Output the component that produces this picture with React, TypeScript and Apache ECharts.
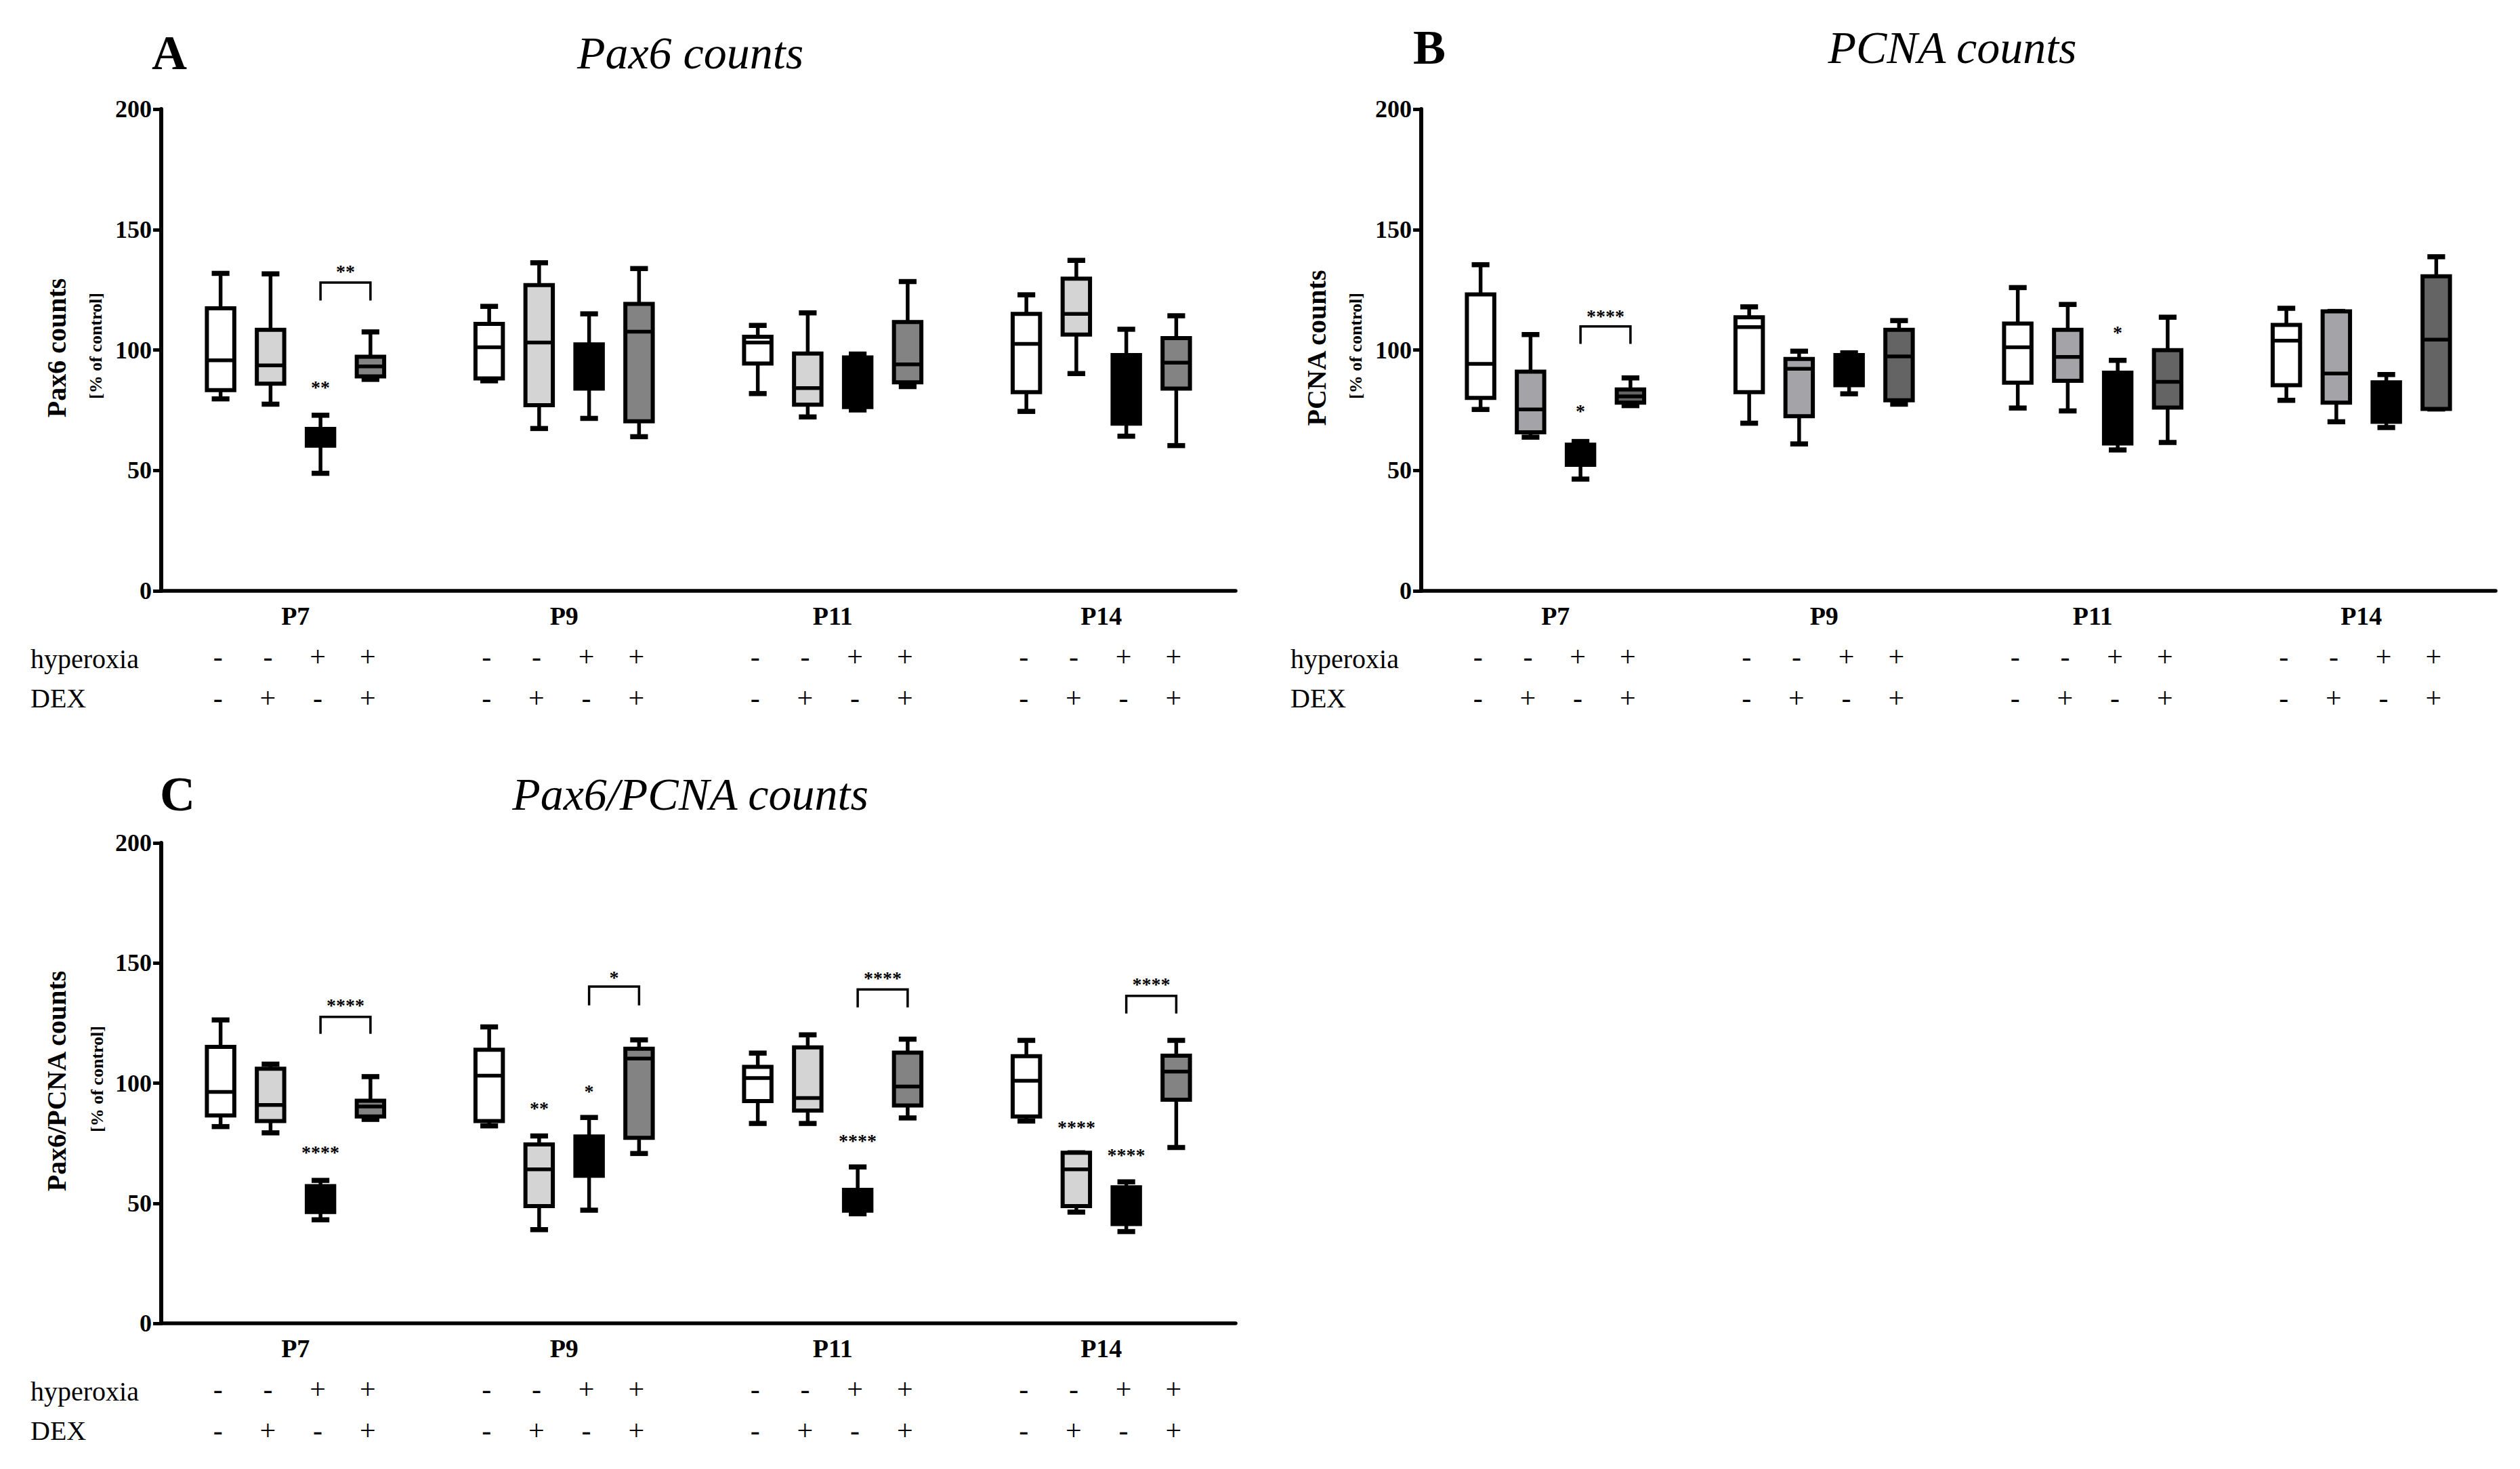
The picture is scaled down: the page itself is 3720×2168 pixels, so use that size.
import React, { useEffect, useRef } from 'react';
import * as echarts from 'echarts';

// ---------- data ----------
const categories = ['P7', 'P9', 'P11', 'P14'];
const groupNames = ['control', 'DEX', 'hyperoxia', 'hyperoxia + DEX'];
const hyperoxiaSigns = ['-', '-', '+', '+'];
const dexSigns = ['-', '+', '-', '+'];
const yTicks = [0, 50, 100, 150, 200];

// each box: [min, Q1, median, Q3, max], one per category
const paxControl = [[79.7, 83.3, 95.7, 117.3, 131.8], [87.2, 88.2, 101.1, 110.8, 118.1], [81.9, 94.4, 103.1, 105.5, 110.2], [74.5, 82.5, 102.5, 115.0, 122.9]];
const paxDex = [[77.5, 86.0, 93.6, 108.4, 131.6], [67.4, 77.1, 103.1, 126.9, 136.2], [72.2, 77.3, 84.2, 98.5, 115.4], [90.2, 106.4, 115.0, 129.6, 137.2]];
const paxHyper = [[48.8, 60.3, 64.0, 67.2, 72.9], [71.6, 84.0, 93.0, 102.3, 115.0], [75.1, 76.3, 87.0, 96.9, 98.3], [64.2, 69.4, 85.0, 97.9, 108.6]];
const paxHyperDex = [[87.8, 89.0, 93.2, 97.2, 107.5], [64.0, 70.4, 107.6, 119.1, 133.8], [84.8, 86.6, 94.0, 111.6, 128.4], [60.3, 84.0, 94.7, 104.9, 114.2]];

const pcnaControl = [[75.3, 80.1, 94.2, 123.1, 135.4], [69.6, 82.5, 109.5, 113.6, 117.9], [75.9, 86.4, 101.1, 111.0, 125.9], [79.1, 85.4, 103.9, 110.4, 117.3]];
const pcnaDex = [[63.8, 65.8, 75.3, 91.0, 106.4], [61.0, 72.5, 92.2, 96.3, 99.5], [74.7, 87.2, 97.1, 108.4, 118.9], [70.2, 78.1, 90.2, 116.0, 116.0]];
const pcnaHyper = [[46.4, 52.3, 57.0, 60.7, 62.0], [81.8, 85.4, 92.0, 97.9, 98.8], [58.5, 61.2, 75.0, 90.6, 95.7], [67.8, 70.2, 80.0, 86.6, 89.8]];
const pcnaHyperDex = [[76.9, 78.1, 80.7, 83.6, 88.4], [77.5, 79.1, 97.3, 108.4, 112.2], [61.6, 76.1, 86.8, 99.9, 113.6], [75.5, 75.5, 104.3, 130.6, 138.7]];

const ratioControl = [[81.9, 86.5, 96.3, 115.1, 126.3], [82.2, 84.2, 103.1, 113.9, 123.4], [83.2, 92.5, 102.1, 106.8, 112.5], [84.2, 86.1, 101.0, 111.2, 117.8]];
const ratioDex = [[79.3, 84.2, 90.9, 106.0, 107.9], [39.0, 48.8, 64.1, 74.5, 78.0], [83.2, 88.6, 93.8, 114.9, 120.1], [46.3, 48.8, 64.1, 71.0, 71.0]];
const ratioHyper = [[43.1, 46.3, 52.0, 57.1, 59.5], [47.1, 61.4, 70.0, 77.8, 85.7], [45.6, 46.9, 50.0, 55.6, 65.1], [38.2, 41.3, 50.0, 56.6, 58.9]];
const ratioHyperDex = [[84.9, 86.1, 90.3, 92.7, 102.7], [70.7, 77.2, 110.2, 114.3, 118.0], [85.5, 90.7, 98.6, 112.7, 118.3], [73.2, 93.1, 104.8, 111.4, 117.8]];

// brackets: [category, fromGroup, toGroup, topValue, legValue, label, labelValue]
const paxBrackets = [[0, 2, 3, 128, 120.5, '**', 134]];
const pcnaBrackets = [[0, 2, 3, 109.8, 102.5, '****', 115.4]];
const ratioBrackets = [
  [0, 2, 3, 127.6, 120.5, '****', 133.8],
  [1, 2, 3, 140.2, 132.4, '*', 145.5],
  [2, 2, 3, 139.0, 131.5, '****', 145.0],
  [3, 2, 3, 136.3, 129.0, '****', 142.5],
];
// stars: [category, group, value, label]
const paxStars = [[0, 2, 86, '**']];
const pcnaStars = [[0, 2, 76, '*'], [2, 2, 108.8, '*']];
const ratioStars = [
  [0, 2, 72.6, '****'], [1, 1, 90.9, '**'], [1, 2, 98.1, '*'],
  [2, 2, 77.4, '****'], [3, 1, 83.2, '****'], [3, 2, 71.6, '****'],
];

// ---------- style ----------
const SERIF = '"Liberation Serif", "Times New Roman", serif';
const SLOT_STEP = 0.186;
const BOX_W = 0.102;
const CAP_W = 0.066;

const panels = [
  {
    grid: { left: 238, top: 161, width: 1586, height: 711 },
    boxes: [paxControl, paxDex, paxHyper, paxHyperDex],
    fills: ['#ffffff', '#d4d4d4', '#000000', '#838383'],
    brackets: paxBrackets, stars: paxStars,
    letter: 'A', letterPos: [250, 78], title: 'Pax6 counts', titlePos: [1019, 78],
    yTitle: 'Pax6 counts', yTitleX: 83, subX: 141, rowX: 45,
  },
  {
    grid: { left: 2098, top: 161, width: 1586, height: 711 },
    boxes: [pcnaControl, pcnaDex, pcnaHyper, pcnaHyperDex],
    fills: ['#ffffff', '#a4a3a8', '#000000', '#646464'],
    brackets: pcnaBrackets, stars: pcnaStars,
    letter: 'B', letterPos: [2110, 70], title: 'PCNA counts', titlePos: [2882, 70],
    yTitle: 'PCNA counts', yTitleX: 1943, subX: 2001, rowX: 1905,
  },
  {
    grid: { left: 238, top: 1244, width: 1586, height: 709 },
    boxes: [ratioControl, ratioDex, ratioHyper, ratioHyperDex],
    fills: ['#ffffff', '#d4d4d4', '#000000', '#838383'],
    brackets: ratioBrackets, stars: ratioStars,
    letter: 'C', letterPos: [262, 1172], title: 'Pax6/PCNA counts', titlePos: [1019, 1172],
    yTitle: 'Pax6/PCNA counts', yTitleX: 83, subX: 143, rowX: 45,
  },
];

function textStyle(text: string, font: string, align = 'center', vAlign = 'middle') {
  return {
    text, font, fill: '#000', textFill: '#000',
    align, textAlign: align, verticalAlign: vAlign, textVerticalAlign: vAlign,
  };
}

function slotX(api: any, cat: number, slot: number) {
  const bw = api.size([1, 0])[0];
  return api.coord([cat, 0])[0] + (slot - 1.5) * SLOT_STEP * bw;
}

function boxRenderer(slot: number, fill: string) {
  return (params: any, api: any) => {
    const cat = api.value(0);
    const bw = api.size([1, 0])[0];
    const cx = slotX(api, cat, slot);
    const y = (v: number) => api.coord([cat, v])[1];
    const yMin = y(api.value(1));
    const yQ1 = y(api.value(2));
    const yMed = y(api.value(3));
    const yQ3 = y(api.value(4));
    const yMax = y(api.value(5));
    const w = BOX_W * bw;
    const c = CAP_W * bw;
    const ls = { stroke: '#000', lineWidth: 5.5 };
    return {
      type: 'group',
      children: [
        { type: 'line', shape: { x1: cx, y1: yQ3, x2: cx, y2: yMax }, style: ls },
        { type: 'line', shape: { x1: cx, y1: yQ1, x2: cx, y2: yMin }, style: ls },
        { type: 'line', shape: { x1: cx - c / 2, y1: yMax, x2: cx + c / 2, y2: yMax }, style: { stroke: '#000', lineWidth: 7.5 } },
        { type: 'line', shape: { x1: cx - c / 2, y1: yMin, x2: cx + c / 2, y2: yMin }, style: { stroke: '#000', lineWidth: 7.5 } },
        { type: 'rect', shape: { x: cx - w / 2, y: yQ3, width: w, height: yQ1 - yQ3 }, style: { fill, stroke: '#000', lineWidth: 6 } },
        { type: 'line', shape: { x1: cx - w / 2, y1: yMed, x2: cx + w / 2, y2: yMed }, style: { stroke: '#000', lineWidth: 5.5 } },
      ],
    };
  };
}

function buildOption() {
  const grid: any[] = [];
  const xAxis: any[] = [];
  const yAxis: any[] = [];
  const series: any[] = [];
  const graphic: any[] = [];

  panels.forEach((p, pi) => {
    grid.push({ ...p.grid, containLabel: false });
    xAxis.push({
      type: 'category', gridIndex: pi, data: categories,
      axisLine: { lineStyle: { color: '#000', width: 5.5 } },
      axisTick: { alignWithLabel: true, length: 13, lineStyle: { color: '#000', width: 5 } },
      axisLabel: { color: '#000', fontFamily: SERIF, fontWeight: 'bold', fontSize: 38, margin: 18 },
      splitLine: { show: false },
    });
    yAxis.push({
      type: 'value', gridIndex: pi,
      min: yTicks[0], max: yTicks[yTicks.length - 1], interval: yTicks[1] - yTicks[0],
      axisLine: { show: true, lineStyle: { color: '#000', width: 6 } },
      axisTick: { show: true, length: 12, lineStyle: { color: '#000', width: 5 } },
      axisLabel: { color: '#000', fontFamily: SERIF, fontWeight: 'bold', fontSize: 36, margin: 14 },
      splitLine: { show: false },
    });

    p.boxes.forEach((boxes, gi) => {
      series.push({
        type: 'custom', name: groupNames[gi], xAxisIndex: pi, yAxisIndex: pi,
        clip: false,
        encode: { x: 0, y: [1, 2, 3, 4, 5] },
        data: boxes.map((b, ci) => [ci, ...b]),
        renderItem: boxRenderer(gi, p.fills[gi]),
        z: 3,
      });
    });

    // signs rows
    series.push({
      type: 'custom', xAxisIndex: pi, yAxisIndex: pi, clip: false, silent: true,
      data: categories.map((_, ci) => [ci, 0]),
      renderItem: (params: any, api: any) => {
        const cat = api.value(0);
        const zeroY = api.coord([cat, 0])[1];
        const children: any[] = [];
        for (let g = 0; g < 4; g++) {
          const x = slotX(api, cat, g) - 4;
          children.push({ type: 'text', x, y: zeroY + 97, style: textStyle(hyperoxiaSigns[g], `42px ${SERIF}`) });
          children.push({ type: 'text', x, y: zeroY + 158, style: textStyle(dexSigns[g], `42px ${SERIF}`) });
        }
        return { type: 'group', children };
      },
    });

    // brackets
    const br = p.brackets;
    series.push({
      type: 'custom', xAxisIndex: pi, yAxisIndex: pi, clip: false, silent: true,
      data: br.map((b: any) => [b[0], b[3]]),
      renderItem: (params: any, api: any) => {
        const b: any = br[params.dataIndex];
        const cat = b[0];
        const x1 = slotX(api, cat, b[1]);
        const x2 = slotX(api, cat, b[2]);
        const yt = api.coord([cat, b[3]])[1];
        const yl = api.coord([cat, b[4]])[1];
        const ylab = api.coord([cat, b[6]])[1];
        return {
          type: 'group',
          children: [
            { type: 'polyline', shape: { points: [[x1, yl], [x1, yt], [x2, yt], [x2, yl]] }, style: { stroke: '#000', lineWidth: 3.5, fill: 'none' } },
            { type: 'text', x: (x1 + x2) / 2, y: ylab + 5, style: textStyle(b[5], `bold 28px ${SERIF}`) },
          ],
        };
      },
    });

    // stars
    const st = p.stars;
    series.push({
      type: 'custom', xAxisIndex: pi, yAxisIndex: pi, clip: false, silent: true,
      data: st.map((s: any) => [s[0], s[2]]),
      renderItem: (params: any, api: any) => {
        const s: any = st[params.dataIndex];
        const x = slotX(api, s[0], s[1]);
        const y = api.coord([s[0], s[2]])[1];
        return { type: 'text', x, y: y + 5, style: textStyle(s[3], `bold 28px ${SERIF}`) };
      },
    });

    const zeroY = p.grid.top + p.grid.height;
    const midY = p.grid.top + p.grid.height / 2;
    graphic.push(
      { type: 'text', x: p.letterPos[0], y: p.letterPos[1], style: textStyle(p.letter, `bold 72px ${SERIF}`) },
      { type: 'text', x: p.titlePos[0], y: p.titlePos[1], style: textStyle(p.title, `italic 68px ${SERIF}`) },
      { type: 'text', x: p.yTitleX, y: midY - 3, rotation: Math.PI / 2, style: textStyle(p.yTitle, `bold 40px ${SERIF}`) },
      { type: 'text', x: p.subX, y: midY - 6, rotation: Math.PI / 2, style: textStyle('[% of control]', `bold 26px ${SERIF}`) },
      { type: 'text', x: p.rowX, y: zeroY + 100, style: textStyle('hyperoxia', `40px ${SERIF}`, 'left') },
      { type: 'text', x: p.rowX, y: zeroY + 158, style: textStyle('DEX', `40px ${SERIF}`, 'left') },
    );
  });

  return {
    animation: false,
    backgroundColor: '#ffffff',
    grid, xAxis, yAxis, series, graphic,
  };
}

export default function App() {
  const ref = useRef<HTMLDivElement>(null);
  useEffect(() => {
    if (!ref.current) return;
    const chart = echarts.init(ref.current, undefined, { renderer: 'svg' });
    chart.setOption(buildOption() as any);
    return () => chart.dispose();
  }, []);
  return (
    <div
      ref={ref}
      style={{ position: 'absolute', left: 0, top: 0, width: 3720, height: 2168, background: '#fff' }}
    />
  );
}
